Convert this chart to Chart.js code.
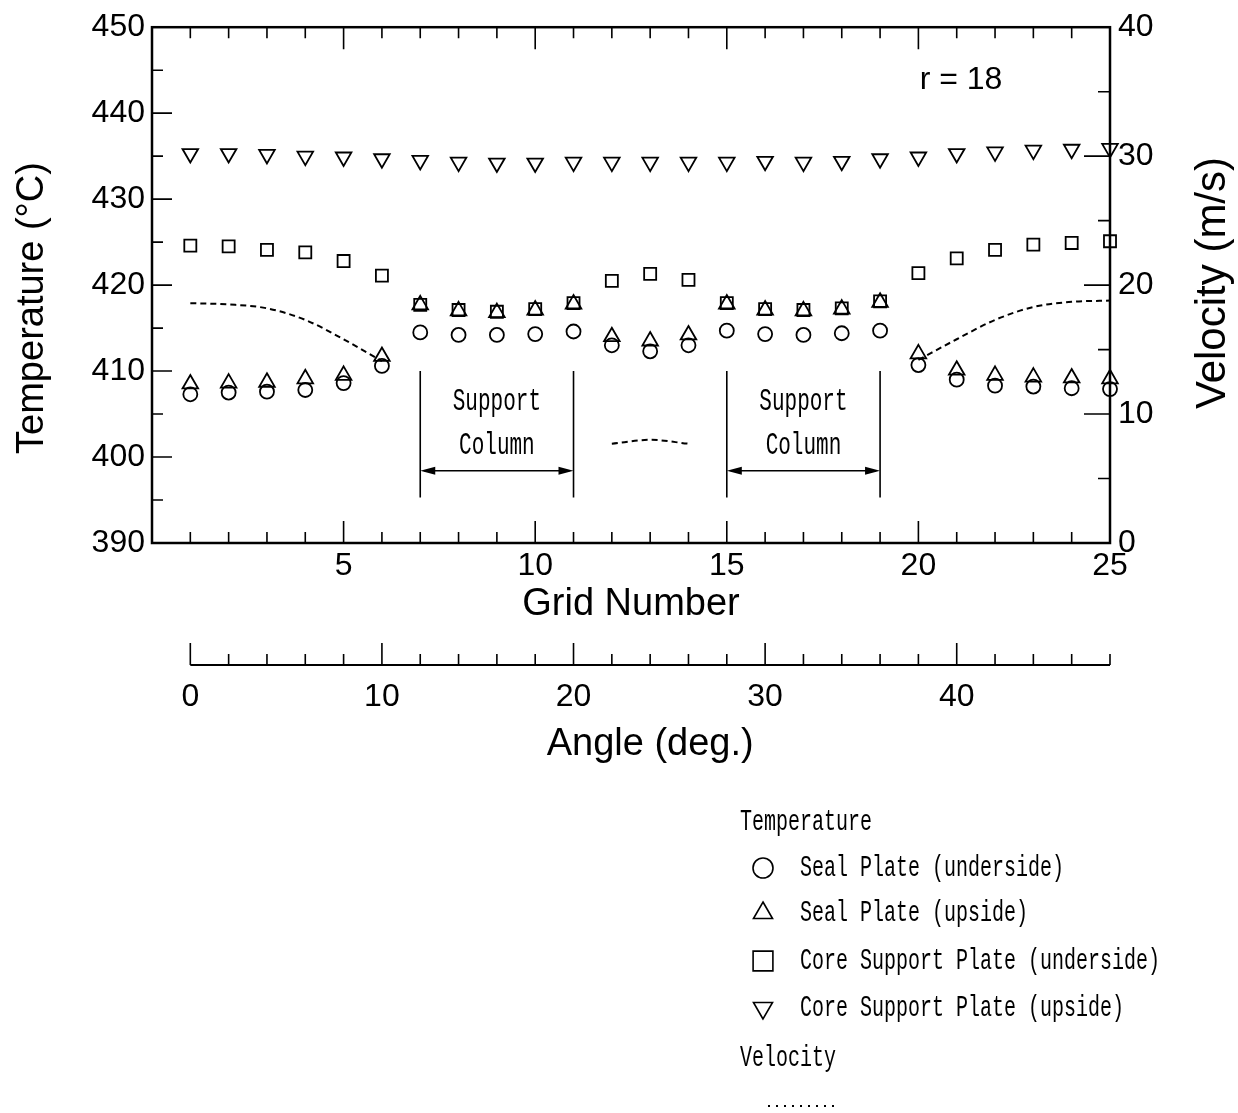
<!DOCTYPE html>
<html>
<head>
<meta charset="utf-8">
<script src="https://cdn.jsdelivr.net/npm/chart.js@4/dist/chart.umd.min.js"></script>
<style>
  html, body { margin: 0; background: #fff; }
</style>
</head>
<body>
<canvas id="chart" width="1238" height="1113"></canvas>
<script>
// grid numbers along the seal plate (1..25), 2 deg per grid
const grids = [1,2,3,4,5,6,7,8,9,10,11,12,13,14,15,16,17,18,19,20,21,22,23,24,25];

// temperatures (deg C)
const sealUnder = [407.3,407.5,407.6,407.8,408.6,410.6,414.5,414.2,414.2,414.3,414.6,413.0,412.3,413.0,414.7,414.3,414.2,414.4,414.7,410.7,409.0,408.3,408.2,408.0,407.9];
const sealUp    = [408.5,408.6,408.7,409.1,409.5,411.7,417.7,417.0,416.8,417.1,417.8,414.0,413.5,414.2,417.8,417.1,417.0,417.2,418.0,412.0,410.1,409.5,409.3,409.2,409.1];
const coreUnder = [424.6,424.5,424.1,423.8,422.8,421.1,417.7,417.1,416.9,417.2,417.9,420.5,421.3,420.6,417.9,417.2,417.1,417.3,418.1,421.4,423.1,424.1,424.7,424.9,425.1];
const coreUp    = [435.3,435.3,435.2,435.0,434.9,434.7,434.5,434.3,434.2,434.2,434.3,434.3,434.3,434.3,434.3,434.4,434.3,434.4,434.7,434.9,435.3,435.5,435.7,435.8,435.9];

// velocity (m/s), gaps under the support columns
const velocity  = [18.6,18.5,18.2,17.3,15.8,14.1,null,null,null,null,null,7.7,8.0,7.7,null,null,null,null,null,14.2,15.8,17.3,18.3,18.7,18.8];

// axes
const tempTicks = [390,400,410,420,430,440,450];
const velTicks = [0,10,20,30,40];
const angleTicks = [0,10,20,30,40];
const DEG_PER_GRID = 2;
const ANGLE_MAX = 48;

// support column spans (grid numbers)
const supportSpans = [[7, 11], [15, 19]];

const SANS = "'Liberation Sans', Arial, sans-serif";
const MONO = "'Liberation Mono', 'Courier New', monospace";

const pts = arr => grids.map((g, i) => ({ x: g, y: arr[i] }));

function markerSet(label, arr, style, radius, rotation) {
  return {
    label, data: pts(arr), yAxisID: 'y', showLine: false, clip: false,
    pointStyle: style, pointRadius: radius, pointRotation: rotation || 0,
    pointBorderColor: '#000', pointBackgroundColor: 'rgba(0,0,0,0)',
    pointBorderWidth: 1.8, borderColor: '#000'
  };
}

// typewriter-ish text: mono, stretched vertically
function monoText(ctx, txt, x, y, align, size) {
  ctx.save();
  ctx.translate(x, y);
  ctx.scale(1, 1.5);
  ctx.font = (size || 20) + 'px ' + MONO;
  ctx.textAlign = align || 'left';
  ctx.textBaseline = 'middle';
  ctx.fillStyle = '#000';
  ctx.fillText(txt, 0, 0);
  ctx.restore();
}

function arrowHead(ctx, x, y, dir) {
  ctx.beginPath();
  ctx.moveTo(x, y);
  ctx.lineTo(x - dir * 15, y - 4);
  ctx.lineTo(x - dir * 15, y + 4);
  ctx.closePath();
  ctx.fill();
}

const extras = {
  id: 'extras',
  afterDatasetsDraw(chart) {
    const { ctx, chartArea: a, scales: { x, y, y2 } } = chart;
    ctx.save();
    ctx.strokeStyle = '#000';
    ctx.fillStyle = '#000';

    // frame
    ctx.lineWidth = 2.5;
    ctx.strokeRect(a.left, a.top, a.right - a.left, a.bottom - a.top);

    // inward ticks
    ctx.lineWidth = 1.6;
    ctx.beginPath();
    for (let g = 1; g < 25; g++) {
      const px = x.getPixelForValue(g);
      const len = g % 5 === 0 ? 22 : 11;
      ctx.moveTo(px, a.bottom); ctx.lineTo(px, a.bottom - len);
      ctx.moveTo(px, a.top); ctx.lineTo(px, a.top + len);
    }
    for (let t = 395; t < 450; t += 5) {
      const py = y.getPixelForValue(t);
      ctx.moveTo(a.left, py); ctx.lineTo(a.left + (t % 10 === 0 ? 20 : 11), py);
    }
    for (let v = 5; v < 40; v += 5) {
      const py = y2.getPixelForValue(v);
      ctx.moveTo(a.right, py); ctx.lineTo(a.right - (v % 10 === 0 ? 26 : 12), py);
    }
    ctx.stroke();

    // angle axis below the grid axis
    const angY = 665;
    const ax = d => x.getPixelForValue(1 + d / DEG_PER_GRID);
    ctx.lineWidth = 2;
    ctx.beginPath();
    ctx.moveTo(ax(0), angY); ctx.lineTo(ax(ANGLE_MAX), angY);
    ctx.stroke();
    ctx.lineWidth = 1.6;
    ctx.beginPath();
    for (let d = 0; d <= ANGLE_MAX; d += 2) {
      ctx.moveTo(ax(d), angY); ctx.lineTo(ax(d), angY - (d % 10 === 0 ? 22 : 11));
    }
    ctx.stroke();

    ctx.font = '32px ' + SANS;
    ctx.textAlign = 'center';
    ctx.textBaseline = 'middle';
    angleTicks.forEach(d => ctx.fillText(String(d), ax(d), 697));

    // axis titles
    ctx.font = '38px ' + SANS;
    ctx.fillText('Grid Number', (a.left + a.right) / 2, 605);
    ctx.fillText('Angle (deg.)', (ax(0) + ax(ANGLE_MAX)) / 2, 745);
    ctx.save();
    ctx.translate(33, 308);
    ctx.rotate(-Math.PI / 2);
    ctx.fillText('Temperature (\u00B0C)', 0, 0);
    ctx.restore();
    ctx.save();
    ctx.font = '42px ' + SANS;
    ctx.translate(1213, 283);
    ctx.rotate(-Math.PI / 2);
    ctx.fillText('Velocity (m/s)', 0, 0);
    ctx.restore();

    ctx.font = '32px ' + SANS;
    ctx.fillText('r = 18', 961, 80);

    // support column annotations
    ctx.lineWidth = 1.6;
    supportSpans.forEach(([g0, g1]) => {
      const x0 = x.getPixelForValue(g0), x1 = x.getPixelForValue(g1);
      const yt = y.getPixelForValue(410), yb = y.getPixelForValue(395.3);
      const ya = y.getPixelForValue(398.4);
      ctx.beginPath();
      ctx.moveTo(x0, yt); ctx.lineTo(x0, yb);
      ctx.moveTo(x1, yt); ctx.lineTo(x1, yb);
      ctx.moveTo(x0 + 4, ya); ctx.lineTo(x1 - 4, ya);
      ctx.stroke();
      arrowHead(ctx, x0, ya, -1);
      arrowHead(ctx, x1, ya, 1);
      const xm = (x0 + x1) / 2;
      monoText(ctx, 'Support', xm, y.getPixelForValue(406.4), 'center', 21);
      monoText(ctx, 'Column', xm, y.getPixelForValue(401.3), 'center', 21);
    });

    // legend
    monoText(ctx, 'Temperature', 740, 822);
    const rows = [868, 913, 961, 1008];
    chart.data.datasets.slice(0, 4).forEach((ds, i) => {
      ctx.lineWidth = 1.6;
      ctx.fillStyle = 'rgba(0,0,0,0)';
      Chart.helpers.drawPoint(ctx, {
        pointStyle: ds.pointStyle, rotation: ds.pointRotation,
        radius: ds.pointStyle === 'circle' ? 10 : (ds.pointStyle === 'rect' ? 14 : 11),
        borderWidth: 1.6
      }, 763, rows[i]);
      ctx.fillStyle = '#000';
      monoText(ctx, ds.label, 800, rows[i]);
    });
    monoText(ctx, 'Velocity', 740, 1058);
    ctx.lineWidth = 2;
    ctx.setLineDash([2, 6]);
    ctx.beginPath();
    ctx.moveTo(768, 1106); ctx.lineTo(840, 1106);
    ctx.stroke();
    ctx.setLineDash([]);
    ctx.restore();
  }
};

const tickFont = { family: SANS, size: 32 };

new Chart(document.getElementById('chart'), {
  type: 'line',
  data: {
    datasets: [
      markerSet('Seal Plate (underside)', sealUnder, 'circle', 7),
      markerSet('Seal Plate (upside)', sealUp, 'triangle', 9),
      markerSet('Core Support Plate (underside)', coreUnder, 'rect', 8.5),
      markerSet('Core Support Plate (upside)', coreUp, 'triangle', 9, 180),
      {
        label: 'Velocity', data: pts(velocity), yAxisID: 'y2',
        borderColor: '#000', borderWidth: 2, borderDash: [6, 4],
        pointRadius: 0, spanGaps: false, cubicInterpolationMode: 'monotone',
        fill: false
      }
    ]
  },
  options: {
    responsive: false,
    animation: false,
    layout: { padding: { top: 24, left: 0, right: 0, bottom: 0 } },
    plugins: { legend: { display: false }, tooltip: { enabled: false } },
    scales: {
      x: {
        type: 'linear', min: 0, max: 25, position: 'bottom',
        afterFit: s => { s.height = 570; },
        grid: { display: false, drawTicks: false }, border: { display: false },
        ticks: {
          stepSize: 5, padding: 4, color: '#000', font: tickFont,
          autoSkip: false, maxRotation: 0,
          callback: v => (v === 0 ? '' : v)
        }
      },
      y: {
        min: 390, max: 450, position: 'left',
        afterFit: s => { s.width = 152; },
        afterBuildTicks: s => { s.ticks = tempTicks.map(v => ({ value: v })); },
        grid: { display: false, drawTicks: false }, border: { display: false },
        ticks: { padding: 7, color: '#000', font: tickFont, autoSkip: false }
      },
      y2: {
        min: 0, max: 40, position: 'right',
        afterFit: s => { s.width = 128; },
        afterBuildTicks: s => { s.ticks = velTicks.map(v => ({ value: v })); },
        grid: { display: false, drawTicks: false }, border: { display: false },
        ticks: { padding: 8, color: '#000', font: tickFont, autoSkip: false }
      }
    }
  },
  plugins: [extras]
});
</script>
</body>
</html>
